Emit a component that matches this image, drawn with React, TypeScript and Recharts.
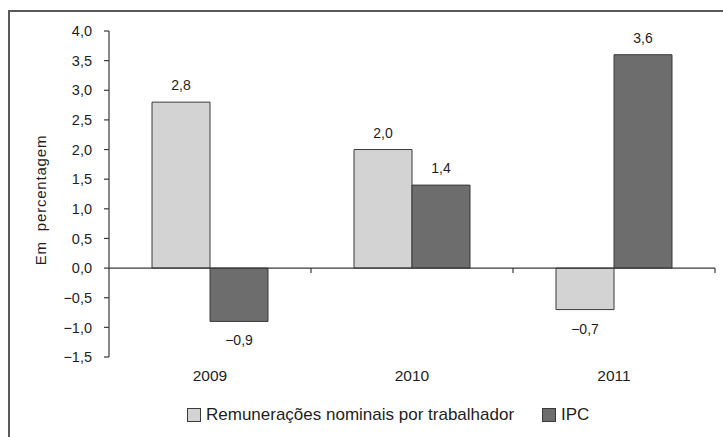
import { BarChart, Bar, XAxis, YAxis, Legend, LabelList, ReferenceLine, Label } from "recharts";

const years = ["2009", "2010", "2011"];
const remuneracoes = [2.8, 2.0, -0.7];
const ipc = [-0.9, 1.4, 3.6];
const yTicks = [-1.5, -1.0, -0.5, 0, 0.5, 1.0, 1.5, 2.0, 2.5, 3.0, 3.5, 4.0];

const data = years.map((year, i) => ({ year, rem: remuneracoes[i], ipc: ipc[i] }));

const LIGHT = "#d3d3d3";
const DARK = "#6d6d6d";
const EDGE = "#3a3a3a";
const TEXT = "#1e1e1e";
const FONT = "'Liberation Sans', Arial, sans-serif";

const fmt = (v: number) => {
  const s = Math.abs(v).toFixed(1).replace(".", ",");
  return v < 0 ? "\u2212" + s : s;
};

function BarValue(props: any) {
  const { x, y, width, height, value } = props;
  const top = Math.min(y, y + height);
  const bottom = Math.max(y, y + height);
  const ty = value >= 0 ? top - 12 : bottom + 24;
  return (
    <text x={x + width / 2} y={ty} textAnchor="middle" fontSize={14} fill={TEXT} fontFamily={FONT}>
      {fmt(value)}
    </text>
  );
}

// zero line with small category separators hanging below it
function ZeroLine(props: any) {
  const { x1, x2, y1 } = props;
  const step = (x2 - x1) / years.length;
  return (
    <g>
      <line x1={x1} x2={x2} y1={y1} y2={y1} stroke={EDGE} strokeWidth={1.2} />
      {years.map((_, i) => (
        <line key={i} x1={x1 + step * (i + 1)} x2={x1 + step * (i + 1)} y1={y1} y2={y1 + 5} stroke={EDGE} strokeWidth={1.2} />
      ))}
    </g>
  );
}

function LegendBox() {
  const items = [
    { name: "Remunerações nominais por trabalhador", color: LIGHT },
    { name: "IPC", color: DARK },
  ];
  return (
    <div style={{ display: "flex", height: 18, alignItems: "center", paddingLeft: 157, fontFamily: FONT, fontSize: 17, color: TEXT }}>
      {items.map((it, i) => (
        <div key={i} style={{ display: "flex", alignItems: "center", marginRight: 28 }}>
          <span style={{ width: 12, height: 12, background: it.color, border: `1px solid ${EDGE}`, marginRight: 5, display: "inline-block" }} />
          <span>{it.name}</span>
        </div>
      ))}
    </div>
  );
}

export default function App() {
  return (
    <div
      style={{
        position: "absolute",
        left: 8,
        top: 10,
        width: 720,
        height: 440,
        borderLeft: "2px solid #5a5a5a",
        borderTop: "2px solid #5a5a5a",
        background: "#fff",
      }}
    >
      <BarChart
        width={713}
        height={425}
        data={data}
        margin={{ top: 19, right: 8, left: 20, bottom: 13 }}
        barCategoryGap={43}
        barGap={0}
      >
        <XAxis
          dataKey="year"
          axisLine={false}
          tickLine={false}
          tickSize={0}
          tickMargin={13}
          height={49}
          tick={{ fontSize: 15.5, fill: TEXT, fontFamily: FONT }}
        />
        <YAxis
          width={79}
          domain={[-1.5, 4]}
          ticks={yTicks}
          interval={0}
          tickFormatter={fmt}
          axisLine={{ stroke: EDGE, strokeWidth: 1.2 }}
          tickLine={{ stroke: EDGE, strokeWidth: 1.2 }}
          tickSize={5}
          tickMargin={12}
          tick={{ fontSize: 14.5, fill: TEXT, fontFamily: FONT }}
        >
          <Label
            content={(p: any) => {
              const vb = p.viewBox;
              const cx = vb.x + 10;
              const cy = vb.y + vb.height / 2 + 6;
              return (
                <text
                  x={cx}
                  y={cy}
                  transform={`rotate(-90 ${cx} ${cy})`}
                  textAnchor="middle"
                  dominantBaseline="central"
                  fontSize={15}
                  letterSpacing={0.8}
                  fill={TEXT}
                  fontFamily={FONT}
                >
                  {"Em\u00a0\u00a0percentagem"}
                </text>
              );
            }}
          />
        </YAxis>
        <Legend verticalAlign="bottom" content={() => <LegendBox />} />
        <Bar dataKey="rem" name="Remunerações nominais por trabalhador" fill={LIGHT} stroke={EDGE} strokeWidth={1} isAnimationActive={false}>
          <LabelList dataKey="rem" content={BarValue} />
        </Bar>
        <Bar dataKey="ipc" name="IPC" fill={DARK} stroke={EDGE} strokeWidth={1} isAnimationActive={false}>
          <LabelList dataKey="ipc" content={BarValue} />
        </Bar>
        <ReferenceLine y={0} shape={ZeroLine} />
      </BarChart>
    </div>
  );
}
